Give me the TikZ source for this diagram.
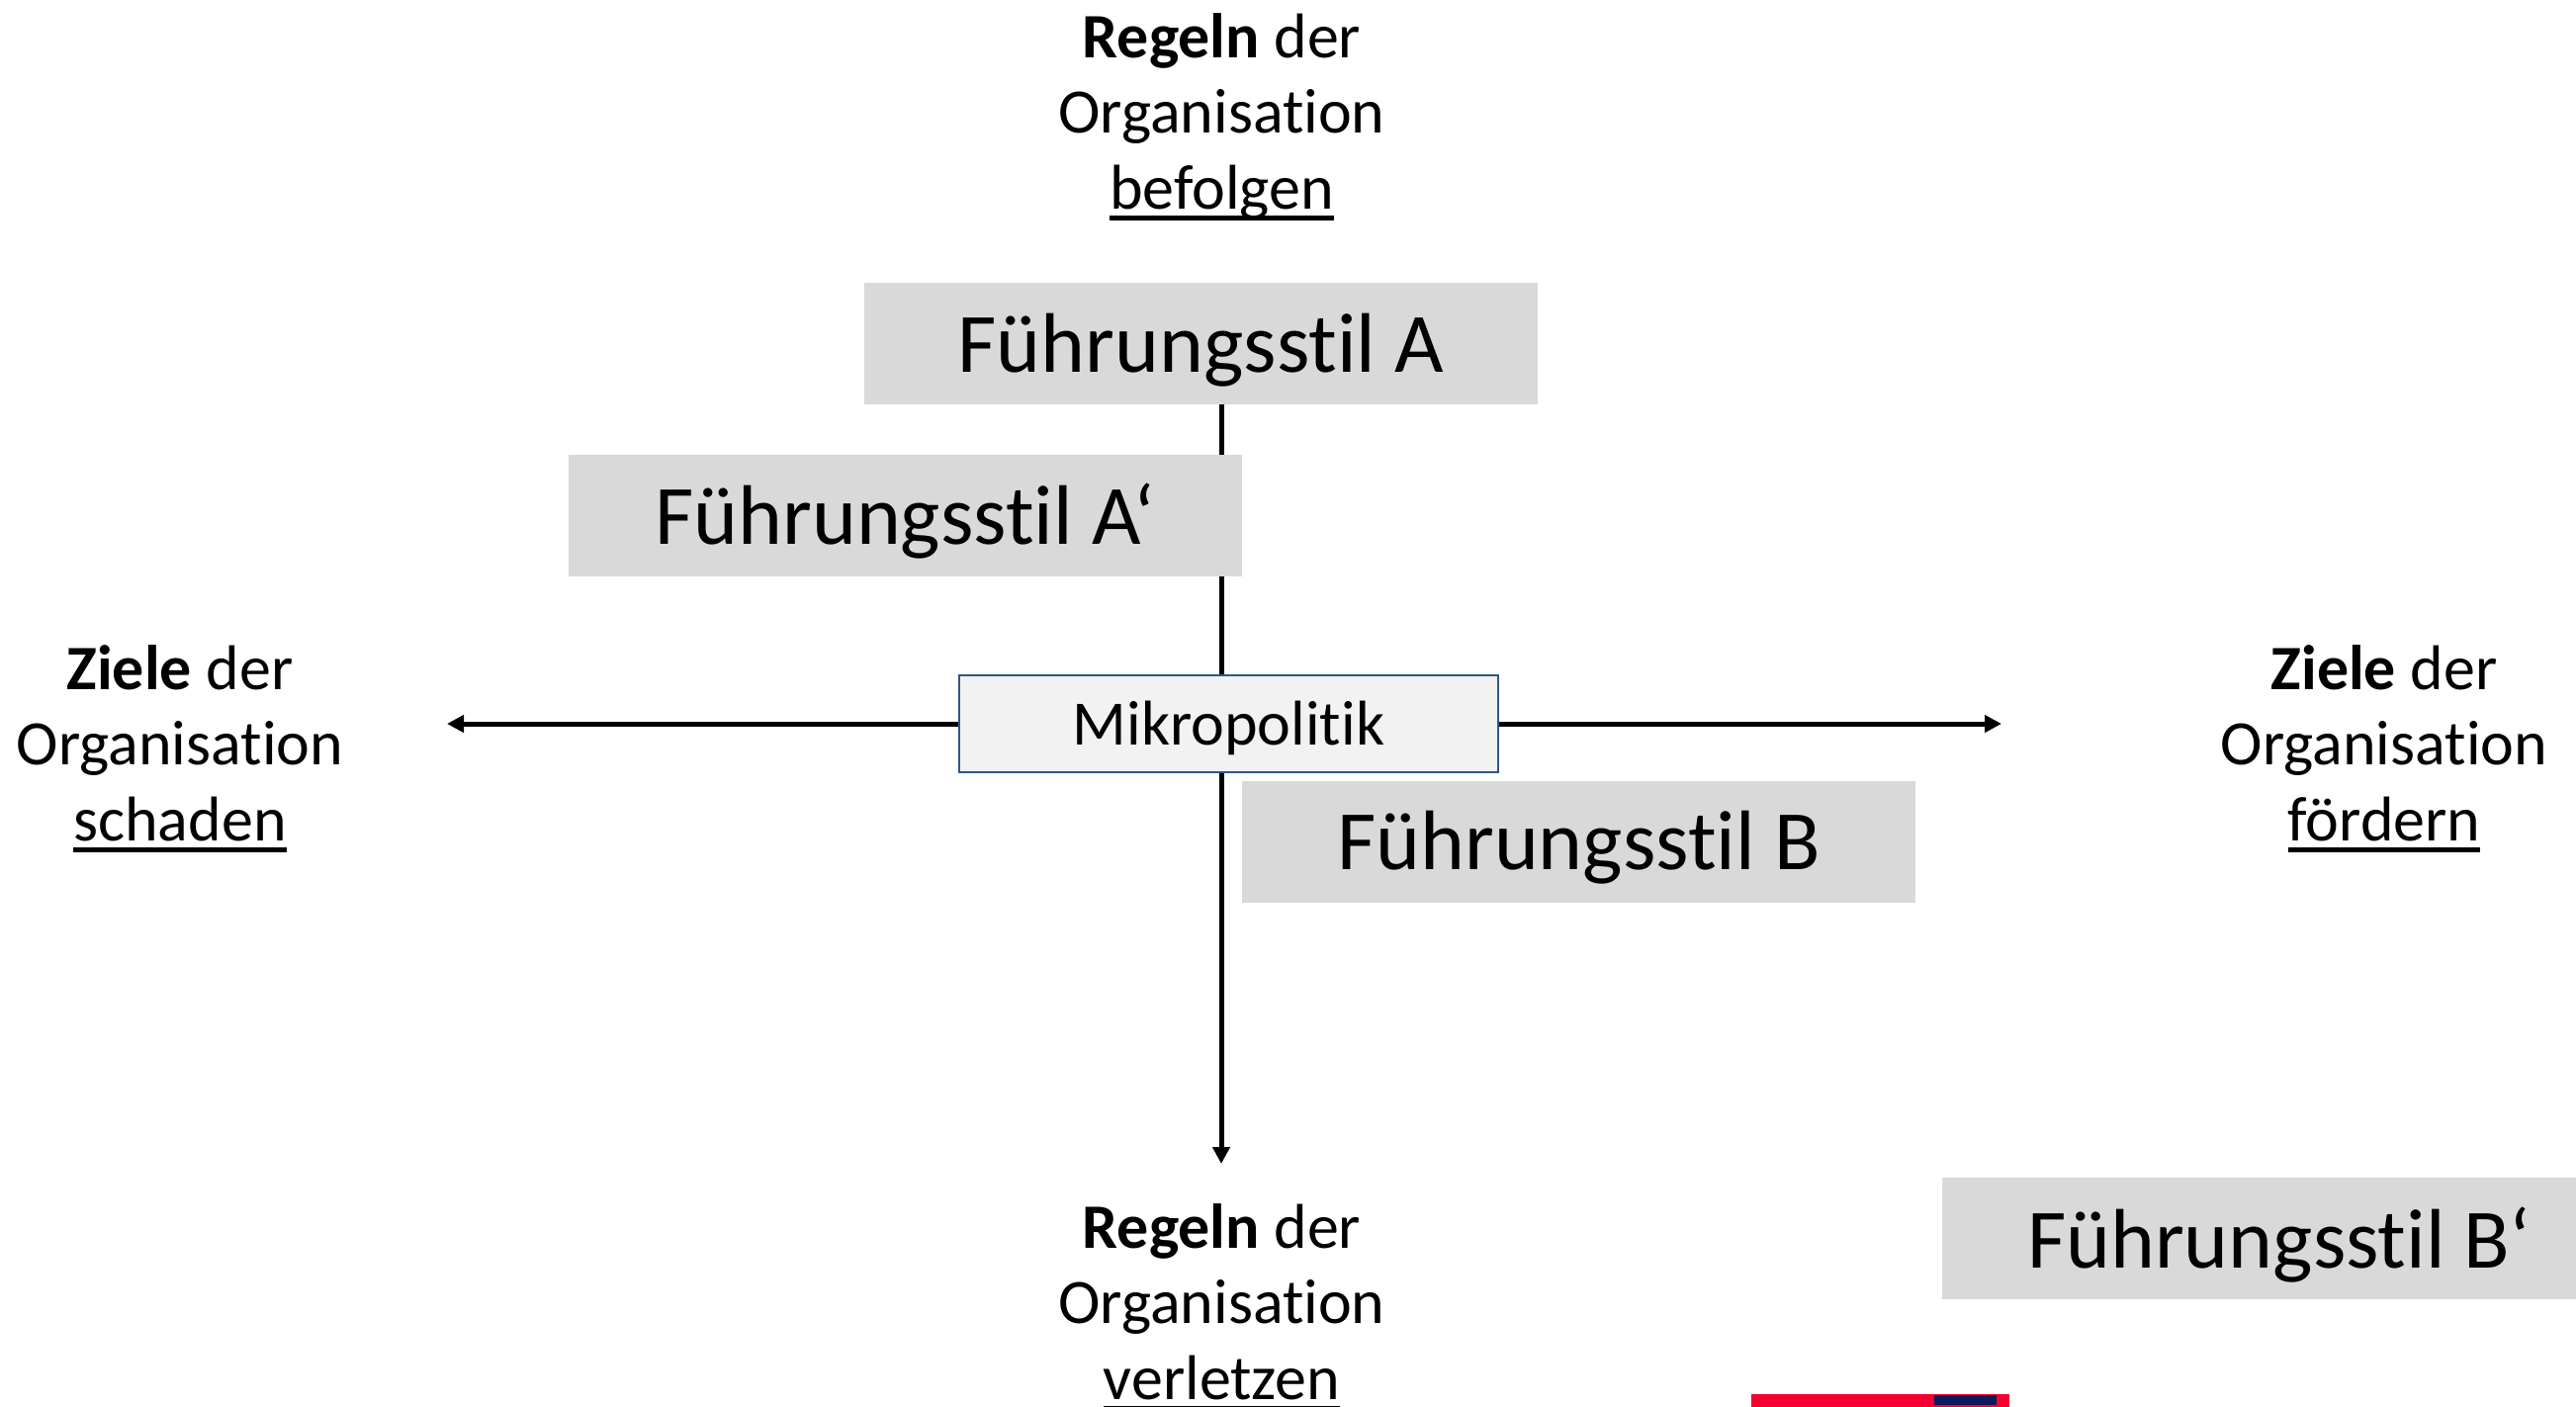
\documentclass[tikz,border=0pt]{standalone}
\usepackage{fontspec}
\setmainfont{Carlito}[Ligatures=NoCommon]
\newsavebox{\ulbox}
\newcommand{\ulinie}[1]{\sbox{\ulbox}{#1}\leavevmode\rlap{\rule[-11.5pt]{\wd\ulbox}{4.5pt}}\usebox{\ulbox}}
\usetikzlibrary{arrows.meta,backgrounds}
\tikzset{
  stilbox/.style={fill=boxgrey,minimum width=681pt,minimum height=123pt,inner sep=0pt,font=\fontsize{85.5}{100}\selectfont},
  polbox/.style={fill=polgrey,draw=polblue,line width=2pt,minimum width=545pt,minimum height=98pt,inner sep=0pt},
  achse/.style={line width=5pt,draw=black},
  achsepfeil/.style={achse,-{Triangle[length=17pt,width=17pt]}},
  beschrift/.style={align=center,inner sep=0pt,font=\fontsize{64}{76.6}\selectfont},
}
\definecolor{boxgrey}{HTML}{D9D9D9}
\definecolor{polgrey}{HTML}{F2F2F2}
\definecolor{polblue}{HTML}{2F5587}
\definecolor{logored}{HTML}{F5002F}
\definecolor{logoblue}{HTML}{0A1A5C}
\newcommand{\stillabel}[1]{\raisebox{-6.5pt}[\height][\depth]{#1}}
\begin{document}
\begin{tikzpicture}[x=1pt,y=-1pt]
\useasboundingbox (0,0) rectangle (2605,1423);
\clip (0,0) rectangle (2605,1423);
\coordinate (vx) at (1235,0);
\coordinate (tipL) at (452,732);
\coordinate (tipR) at (2024,732);
\coordinate (tipD) at (1235,1177);
\node[stilbox] (A) at (1214.5,347.5) {\stillabel{Führungsstil A}};
\node[stilbox] (Ap) at (915,521) {\stillabel{Führungsstil A‘}};
\node[stilbox] (B) at (1596.5,851) {\stillabel{Führungsstil B}};
\node[stilbox] (Bp) at (2304.5,1252.5) {\stillabel{Führungsstil B‘}};
\node[polbox,font=\fontsize{64}{70}\selectfont] (M) at (1242.5,732) {\raisebox{-4pt}[\height][\depth]{Mikropolitik}};
\node[beschrift] (top) at (1235.5,118) {\textbf{Regeln} der\\Organisation\\\ulinie{befolgen}};
\node[beschrift] (bottom) at (1235.5,1322) {\textbf{Regeln} der\\Organisation\\\ulinie{verletzen}};
\node[beschrift] (left) at (182,757) {\textbf{Ziele} der\\Organisation\\\ulinie{schaden}};
\node[beschrift] (right) at (2411,757) {\textbf{Ziele} der\\Organisation\\\ulinie{fördern}};
\begin{scope}[on background layer]
\draw[achse] (vx |- A.south) -- (vx |- M.north);
\draw[achsepfeil] (vx |- M.south) -- (tipD);
\draw[achsepfeil] (M.west) -- (tipL);
\draw[achsepfeil] (M.east) -- (tipR);
\end{scope}
\fill[logored] (1771,1410) rectangle (2032,1423);
\fill[logoblue] (1956,1411) rectangle (2019,1421);
\end{tikzpicture}
\end{document}
